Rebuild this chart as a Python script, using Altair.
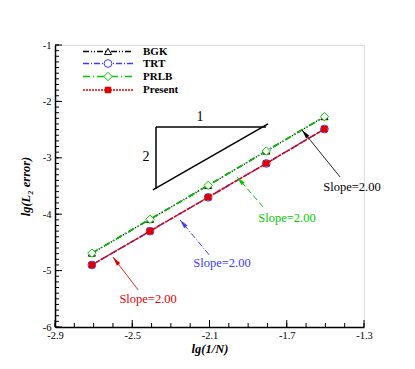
import math
import altair as alt
import pandas as pd

# ---------------- data ----------------
x_vals = [-2.709, -2.408, -2.107, -1.806, -1.505]
bgk = [-4.69, -4.09, -3.49, -2.88, -2.27]
trt = [-4.90, -4.30, -3.70, -3.10, -2.49]
prlb = [-4.69, -4.09, -3.49, -2.88, -2.27]
present = [-4.90, -4.30, -3.70, -3.10, -2.49]
series_names = ["BGK", "TRT", "PRLB", "Present"]

x_major = [-2.9, -2.5, -2.1, -1.7, -1.3]
y_major = [-6, -5, -4, -3, -2, -1]
x_minor = [round(-2.9 + 0.1 * i, 2) for i in range(17)]
y_minor = [round(-6 + 0.1 * i, 2) for i in range(51)]

# slope triangle segments (x, y, x2, y2)
tri_x1 = [-2.377, -2.377, -2.393]
tri_y1 = [-2.454, -2.454, -3.57]
tri_x2 = [-1.807, -2.377, -1.797]
tri_y2 = [-2.454, -3.55, -2.40]
tri_labels = ["1", "2"]
tri_lx = [-2.149, -2.429]
tri_ly = [-2.28, -2.99]

# slope annotations
ann_text = ["Slope=2.00", "Slope=2.00", "Slope=2.00", "Slope=2.00"]
ann_tip_x = [-1.621, -1.957, -2.253, -2.600]
ann_tip_y = [-2.507, -3.34, -4.10, -4.76]
ann_tail_x = [-1.424, -1.823, -2.102, -2.470]
ann_tail_y = [-3.34, -3.87, -4.72, -5.34]
ann_tx = [-1.362, -1.699, -2.035, -2.418]
ann_ty = [-3.52, -4.07, -4.87, -5.50]

# ---------------- style ----------------
W, H = 309, 282
FONT = "Liberation Serif"
xs = alt.Scale(domain=[-2.9, -1.3], nice=False, zero=False)
ys = alt.Scale(domain=[-6, -1], nice=False, zero=False)

styles = {
    "BGK": dict(color="black", dash=[6, 2, 1, 2, 1, 2], shape="triangle-up", filled=False, size=50),
    "TRT": dict(color="#3b3bff", dash=[6, 2, 1, 2], shape="circle", filled=False, size=60),
    "PRLB": dict(color="#00c800", dash=[7, 3, 1, 3], shape="diamond", filled=False, size=70),
    "Present": dict(color="#e00000", dash=[2, 1], shape="square", filled=True, size=42),
}
plot_dash = {"BGK": [6, 2, 1, 2, 1, 2], "TRT": [6, 2, 1, 2], "PRLB": [7, 3, 1, 3], "Present": [4, 1]}
ann_colors = ["black", "#00c800", "#3b3bff", "#e00000"]
ann_dash = [[1, 0], [6, 3], [6, 2, 1, 2], [1, 0]]

series_vals = {"BGK": bgk, "TRT": trt, "PRLB": prlb, "Present": present}

x_axis = alt.Axis(
    values=x_major, title="lg(1/N)", ticks=False, grid=False, labelFlush=False,
    labelExpr="datum.value < 0 ? '-' + format(-datum.value, '.1f') : format(datum.value, '.1f')",
    labelFont=FONT, labelFontSize=10.5, labelColor="black", labelPadding=3,
    titleFont=FONT, titleFontSize=12.5, titleFontWeight="bold", titleFontStyle="italic",
    titleColor="black", titlePadding=2, domainColor="black", domainWidth=1.5,
)
y_axis = alt.Axis(
    values=y_major, title="lg(L₂ error)", ticks=False, grid=False, labelFlush=False,
    labelExpr="datum.value < 0 ? '-' + format(-datum.value, 'd') : format(datum.value, 'd')",
    labelFont=FONT, labelFontSize=10.5, labelColor="black", labelPadding=4,
    titleFont=FONT, titleFontSize=12.5, titleFontWeight="bold", titleFontStyle="italic",
    titleColor="black", titlePadding=10, titleY=141, domainColor="black", domainWidth=1.5,
)


def X(field="x"):
    return alt.X(f"{field}:Q", scale=xs, axis=x_axis)


def Y(field="y"):
    return alt.Y(f"{field}:Q", scale=ys, axis=y_axis)


layers = []

# axes carrier (invisible)
axis_df = pd.DataFrame({"x": [-2.9, -1.3], "y": [-6, -1]})
layers.append(alt.Chart(axis_df).mark_point(opacity=0).encode(x=X(), y=Y()))


# inward ticks
def yticks(vals, length):
    return alt.Chart(pd.DataFrame({"y": vals})).mark_rule(color="black", strokeWidth=1).encode(
        y=Y(), x=alt.value(0), x2=alt.value(length))


def xticks(vals, length):
    return alt.Chart(pd.DataFrame({"x": vals})).mark_rule(color="black", strokeWidth=1).encode(
        x=X(), y=alt.value(H), y2=alt.value(H - length))


layers += [yticks(y_minor, 4), yticks(y_major, 7), xticks(x_minor, 4), xticks(x_major, 7)]

# series
for name in series_names:
    st = series_vals[name]
    s = styles[name]
    df = pd.DataFrame({"x": x_vals, "y": st})
    line = alt.Chart(df).mark_line(color=s["color"], strokeDash=plot_dash[name], strokeWidth=1.5).encode(
        x=X(), y=Y())
    pts = alt.Chart(df).mark_point(
        shape=s["shape"], filled=s["filled"], size=s["size"], color=s["color"],
        strokeWidth=1, opacity=1, fill=s["color"] if s["filled"] else "white",
    ).encode(x=X(), y=Y())
    layers += [line, pts]

# slope triangle
tri_df = pd.DataFrame({"x": tri_x1, "y": tri_y1, "x2": tri_x2, "y2": tri_y2})
layers.append(
    alt.Chart(tri_df).mark_rule(color="black", strokeWidth=1.5).encode(
        x=X(), y=Y(), x2="x2:Q", y2="y2:Q")
)
tri_lab_df = pd.DataFrame({"t": tri_labels, "x": tri_lx, "y": tri_ly})
layers.append(
    alt.Chart(tri_lab_df).mark_text(font=FONT, fontSize=14, color="black", baseline="middle").encode(
        x=X(), y=Y(), text="t:N")
)

# annotations with arrows
head_path = "M0,0L0.5,2.2L-0.5,2.2Z"
for i in range(len(ann_text)):
    seg = pd.DataFrame({"x": [ann_tail_x[i]], "y": [ann_tail_y[i]],
                        "x2": [ann_tip_x[i]], "y2": [ann_tip_y[i]]})
    layers.append(
        alt.Chart(seg).mark_rule(color=ann_colors[i], strokeDash=ann_dash[i], strokeWidth=1).encode(
            x=X(), y=Y(), x2="x2:Q", y2="y2:Q")
    )
    dxp = (ann_tip_x[i] - ann_tail_x[i]) * W / 1.6
    dyp = -(ann_tip_y[i] - ann_tail_y[i]) * H / 5.0
    ang = math.degrees(math.atan2(dxp, -dyp)) % 360
    tip = pd.DataFrame({"x": [ann_tip_x[i]], "y": [ann_tip_y[i]]})
    layers.append(
        alt.Chart(tip).mark_point(shape=head_path, filled=True, size=70, angle=ang,
                                  color=ann_colors[i], opacity=1).encode(x=X(), y=Y())
    )
    tdf = pd.DataFrame({"t": [ann_text[i]], "x": [ann_tx[i]], "y": [ann_ty[i]]})
    layers.append(
        alt.Chart(tdf).mark_text(font=FONT, fontSize=12.5, color=ann_colors[i], baseline="middle").encode(
            x=X(), y=Y(), text="t:N")
    )

# manual legend
leg_y = [6.5, 18.5, 31.5, 45]
for i, name in enumerate(series_names):
    s = styles[name]
    one = pd.DataFrame({"t": [name]})
    layers.append(
        alt.Chart(one).mark_rule(color=s["color"], strokeDash=s["dash"], strokeWidth=1.5).encode(
            x=alt.value(28), x2=alt.value(78), y=alt.value(leg_y[i]))
    )
    layers.append(
        alt.Chart(one).mark_point(shape=s["shape"], filled=s["filled"], size=s["size"], color=s["color"],
                                  strokeWidth=1, opacity=1,
                                  fill=s["color"] if s["filled"] else "white").encode(
            x=alt.value(53), y=alt.value(leg_y[i]))
    )
    layers.append(
        alt.Chart(one).mark_text(font=FONT, fontSize=11, fontWeight="bold", color="black",
                                 align="left", baseline="middle").encode(
            x=alt.value(88), y=alt.value(leg_y[i]), text="t:N")
    )

chart = alt.layer(*layers).properties(
    width=W, height=H, autosize="none",
    padding={"left": 47, "top": 37, "right": 42, "bottom": 33},
).configure_view(stroke=None).configure(background="white")

chart.save("out.html", embed_options={"renderer": "svg", "actions": False})
